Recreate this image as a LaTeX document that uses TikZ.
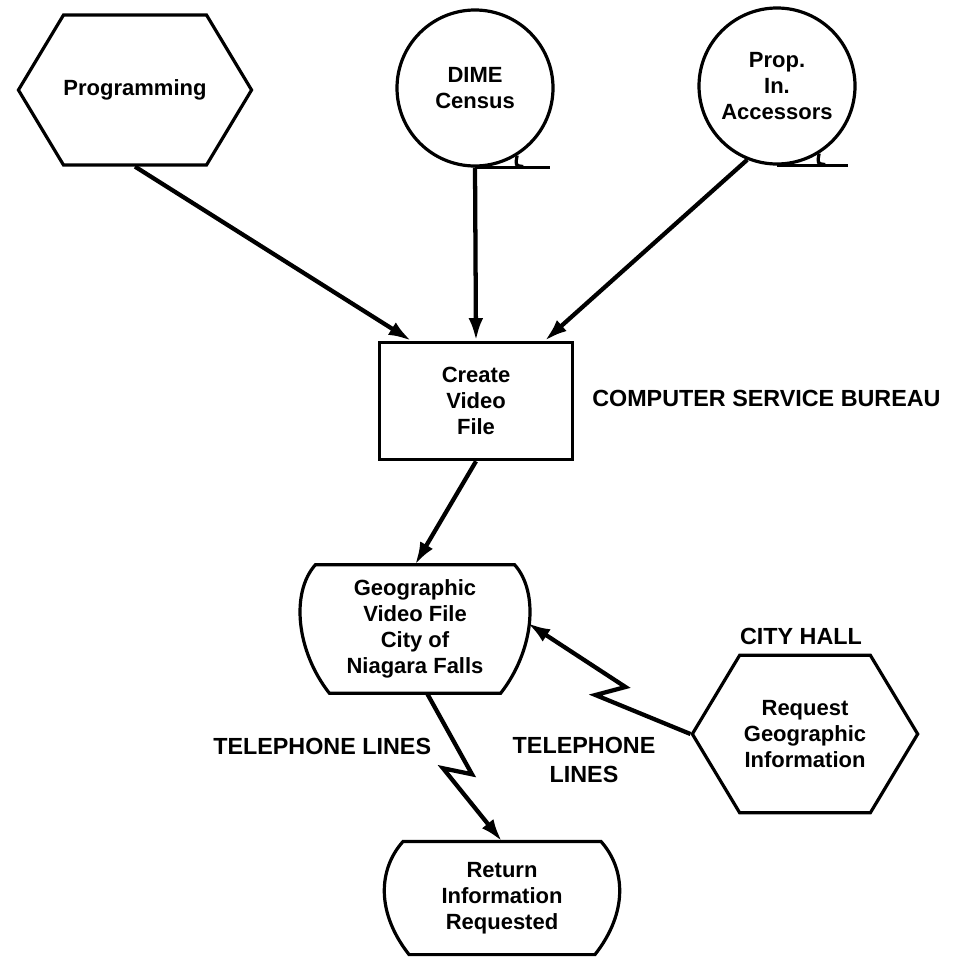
\documentclass[tikz,border=0pt]{standalone}
\usepackage{fontspec}
\setmainfont{Liberation Sans}
\usetikzlibrary{arrows.meta}
\usetikzlibrary{shapes.symbols}
\usetikzlibrary{calc}

\tikzset{
  outline/.style={line width=2.4pt},
  boxtext/.style={outline, draw, align=center, inner sep=0pt,
    font=\bfseries\fontsize{16.5}{19.5}\selectfont},
  hexbox/.style={boxtext, signal, signal to=east and west, signal pointer angle=118},
  tape/.style={boxtext, circle, minimum size=117pt},
  filebox/.style={boxtext, rectangle, minimum width=145pt, minimum height=88pt},
  vdu/.style={boxtext, draw=none, rectangle},
  lbl/.style={inner sep=0pt, font=\bfseries\fontsize{17.5}{21.75}\selectfont},
  arr/.style={line width=3.2pt, -{Latex[length=17pt,width=11pt]}}
}
% barrel outline round a vdu node: #1 node, #2 inset of the bottom corners
\newcommand{\vdushape}[2]{%
  \draw[outline] (#1.north west) -- (#1.north east)
    .. controls +(25,28) and +(33,-42) .. ($(#1.south east)+(-#2,0)$)
    -- ($(#1.south west)+(#2,0)$)
    .. controls +(-33,-42) and +(-25,28) .. (#1.north west) -- cycle;}

\begin{document}
\begin{tikzpicture}[x=0.75pt,y=0.75pt,yscale=-1,xscale=1]
\useasboundingbox (0,0) rectangle (969,960);
% inputs
\node[hexbox, minimum width=172pt, minimum height=112.5pt] (prog) at (135,90) {Programming};
\node[tape] (dime) at (475,88) {DIME\\Census};
\node[tape] (prop) at (777,86) {Prop.\\In.\\Accessors};
% tape tails
\draw[outline] (dime.south) -- ++(75,0);
\draw[outline] (dime.-58) .. controls +(-2,10) .. ++(6,11);
\draw[outline] (prop.south) -- ++(71,0);
\draw[outline] (prop.-58) .. controls +(-2,10) .. ++(6,11);
% service bureau
\node[filebox] (make) at (476,401) {Create\\Video\\File};
\node[lbl, anchor=west] (csb) at (592,398) {COMPUTER SERVICE BUREAU};
% files and city hall
\node[vdu, minimum width=147pt, minimum height=94pt] (geo) at (415,629) {Geographic\\Video File\\City of\\Niagara Falls};
\vdushape{geo}{14}
\node[vdu, minimum width=146pt, minimum height=82.5pt] (ret) at (502,898) {Return\\Information\\Requested};
\vdushape{ret}{6}
\node[hexbox, minimum width=169pt, minimum height=118pt] (req) at (805,734) {Request\\Geographic\\Information};
\node[lbl] (hall) at (801,636) {CITY HALL};
\node[lbl, anchor=west] (tel1) at (213,746) {TELEPHONE LINES};
\node[lbl, align=center] (tel2) at (584,760) {TELEPHONE\\LINES};
% arrows
\draw[arr] (prog.south) -- ($(make.north west)!0.17!(make.north east)$);
\draw[arr] (dime.south) -- (make.north);
\draw[arr] (prop.-112) -- ($(make.north west)!0.85!(make.north east)$);
\draw[arr] (make.south) -- (geo.north);
% telephone lines
\draw[arr] ($(geo.south)+(12,0)$) -- ++(45,81) -- ++(-29,-6) -- (ret.north);
\draw[arr] (req.west) -- ++(-95,-39) -- ++(30,-8) -- ($(geo.east)+(13,-6)$);
\end{tikzpicture}
\end{document}
